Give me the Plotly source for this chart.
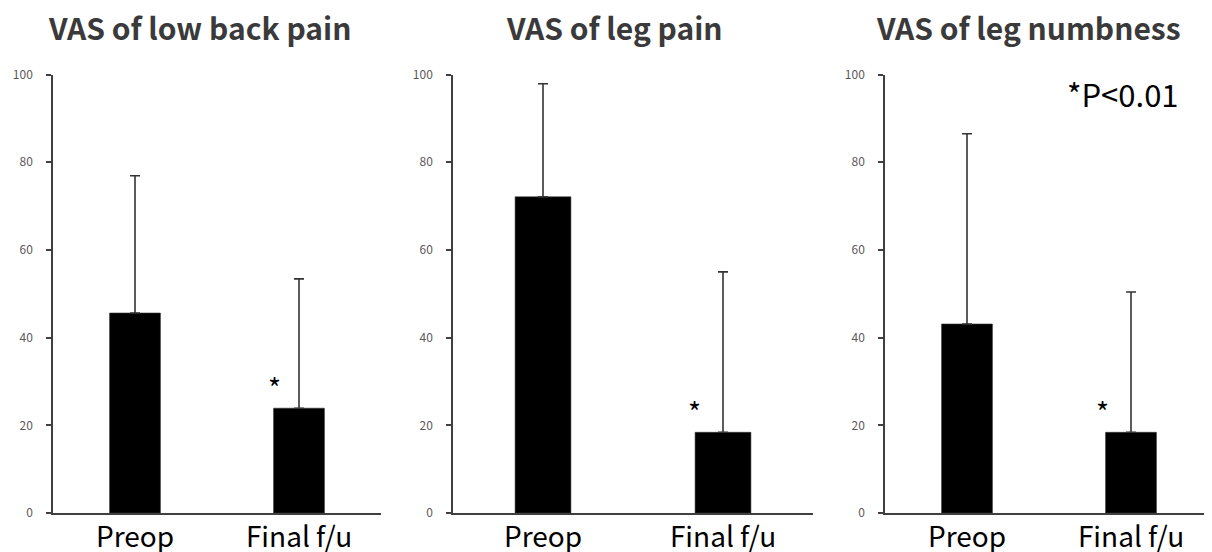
import plotly.graph_objects as go

W, H = 1212, 552
OFF = 8  # page offset of the plot div (body margin)

categories = ["Preop", "Final f/u"]
titles = ["VAS of low back pain", "VAS of leg pain", "VAS of leg numbness"]
means = [
    [45.6, 23.9],
    [72.1, 18.4],
    [43.1, 18.4],
]
sd_plus = [
    [31.3, 29.5],
    [25.8, 36.6],
    [43.4, 32.0],
]
star_y = [28.7, 23.3, 23.3]
star_x = [0.848, 0.844, 0.829]
y_ticks = [0, 20, 40, 60, 80, 100]
p_note = "*P<0.01"

FONT = "Noto Sans CJK JP"

# screen-pixel layout of each panel (x start, x end)
panels_px = [(53, 381), (453, 813), (885, 1213)]
y0_px, y100_px = 513, 74.5
title_cx = [199.5, 614.5, 1028]


def px(v):
    return (v - OFF) / W


def py(v):
    return (H - (v - OFF)) / H


fig = go.Figure()
layout = dict(
    width=W, height=H,
    margin=dict(l=0, r=0, t=0, b=0, pad=0, autoexpand=False),
    paper_bgcolor="white", plot_bgcolor="white",
    showlegend=False,
    font=dict(family=FONT, color="#000000"),
)

ydom = [py(y0_px), py(y100_px)]
annotations = []
for i in range(3):
    sfx = "" if i == 0 else str(i + 1)
    xa, ya = "x" + sfx, "y" + sfx
    fig.add_trace(go.Bar(
        x=categories, y=means[i],
        xaxis=xa, yaxis=ya,
        width=0.31,
        marker=dict(color="#000000", line=dict(color="#333333", width=0.6)),
        error_y=dict(type="data", symmetric=False, array=sd_plus[i],
                     arrayminus=[0, 0], color="#333333", thickness=1.6, width=5),
    ))
    x0, x1 = panels_px[i]
    layout["xaxis" + sfx] = dict(
        domain=[px(x0), min(px(x1), 1.0)], anchor=ya, automargin=False,
        range=[-0.5, 1.5], showline=True, linecolor="#404040", linewidth=1.5,
        ticks="", showgrid=False, zeroline=False,
        tickfont=dict(family=FONT, size=28, color="#000000"),
        ticklabelstandoff=-1,
    )
    layout["yaxis" + sfx] = dict(
        domain=ydom, anchor=xa, range=[0, 100], automargin=False,
        tickvals=y_ticks, showline=True, linecolor="#404040", linewidth=1.5,
        ticks="outside", ticklen=5, tickwidth=1.5, tickcolor="#404040",
        showgrid=False, zeroline=False,
        tickfont=dict(family=FONT, size=12, color="#595959"),
        ticklabelstandoff=11,
    )
    annotations.append(dict(
        text="<b>" + titles[i] + "</b>", xref="paper", yref="paper",
        x=px(title_cx[i]), y=py(27), xanchor="center", yanchor="middle",
        showarrow=False, font=dict(family=FONT, size=30, color="#3a3a3a"),
    ))
    annotations.append(dict(
        text="*", xref=xa, yref=ya, x=star_x[i], y=star_y[i],
        xanchor="center", yanchor="middle", showarrow=False,
        font=dict(family=FONT, size=28, color="#000000"),
    ))

annotations.append(dict(
    text=p_note, xref="paper", yref="paper", x=px(1123), y=py(93),
    xanchor="center", yanchor="middle", showarrow=False,
    font=dict(family=FONT, size=31, color="#000000"),
))
layout["annotations"] = annotations
fig.update_layout(**layout)
fig.write_html("out.html")
